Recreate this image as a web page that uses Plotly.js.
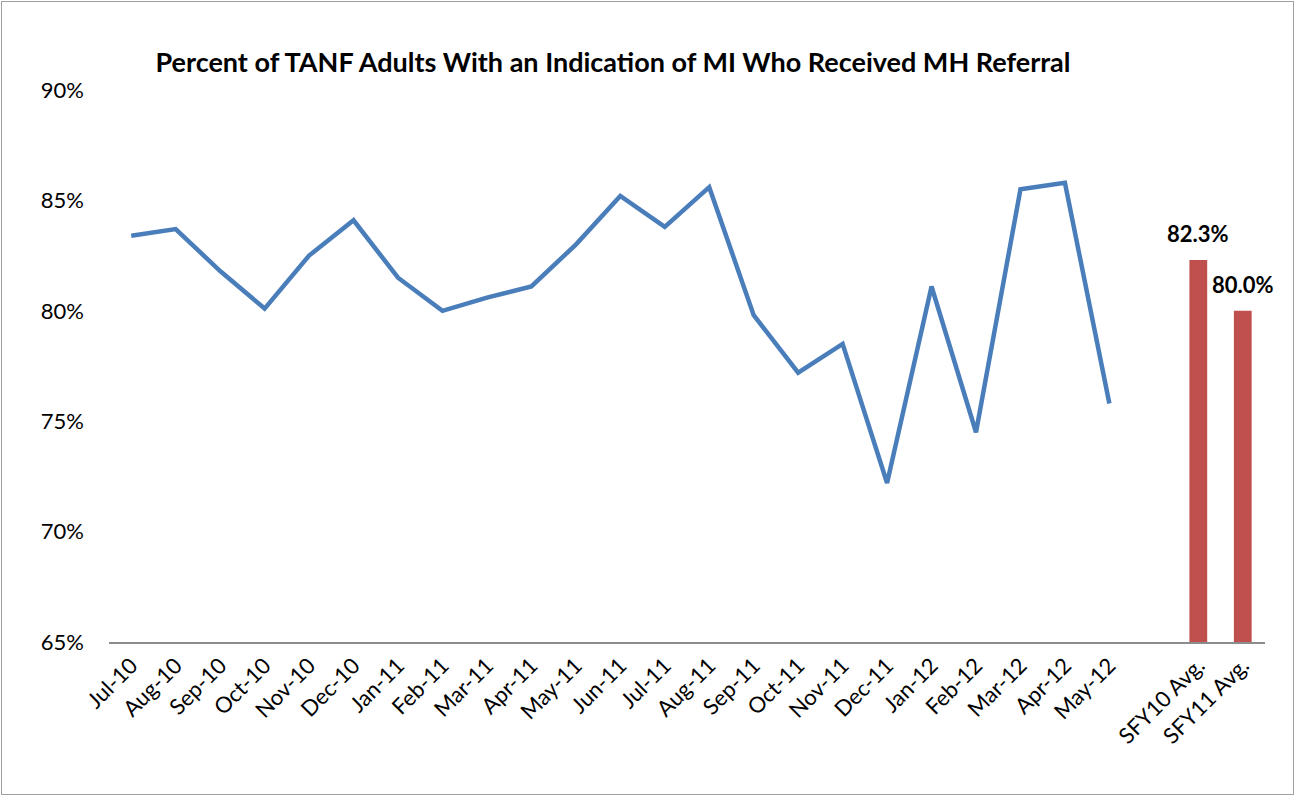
<!DOCTYPE html>
<html>
<head>
<meta charset="utf-8">
<script src="https://cdn.plot.ly/plotly-3.0.1.min.js"></script>
<style>
  body { margin: 0; background: #fff; }
  #chart { width: 1296px; height: 796px; position: relative; }
  #frame { position: absolute; left: 1px; top: 1px; width: 1291px; height: 792px;
           border: 1px solid #a0a0a0; pointer-events: none; }
</style>
</head>
<body>
<div id="chart"><div id="frame"></div></div>
<script>
'use strict'

// monthly percentages

const months = ['Jul-10', 'Aug-10', 'Sep-10', 'Oct-10', 'Nov-10', 'Dec-10',
  'Jan-11', 'Feb-11', 'Mar-11', 'Apr-11', 'May-11', 'Jun-11',
  'Jul-11', 'Aug-11', 'Sep-11', 'Oct-11', 'Nov-11', 'Dec-11',
  'Jan-12', 'Feb-12', 'Mar-12', 'Apr-12', 'May-12']
const monthly = [83.4, 83.7, 81.8, 80.1, 82.5, 84.1,
  81.5, 80.0, 80.6, 81.1, 83.0, 85.2,
  83.8, 85.6, 79.8, 77.2, 78.5, 72.2,
  81.1, 74.5, 85.5, 85.8, 75.8]

// yearly averages

const avgLabels = ['SFY10 Avg.', 'SFY11 Avg.']
const avgValues = [82.3, 80.0]

// y ticks

const yTicks = [65, 70, 75, 80, 85, 90]

///////////////////////////////////////////////////////

// one empty slot between the months and the averages
const labels = months.concat([''], avgLabels)
const idx = labels.map((_, i) => i)
const monthIdx = months.map((_, i) => i)
const avgIdx = avgLabels.map((_, i) => months.length + 1 + i)

const font = 'Lato, "Open Sans", sans-serif'

const traceLine = {
  type: 'scatter',
  mode: 'lines',
  x: monthIdx,
  y: monthly,
  line: { color: '#4a7ebb', width: 4.5 },
  hoverinfo: 'x+y'
}

const traceBars = {
  type: 'bar',
  x: avgIdx,
  y: avgValues,
  width: 0.4,
  marker: { color: '#c0504d' },
  hoverinfo: 'x+y'
}

// value labels sit a little above the bars
const barLabels = avgValues.map((v, i) => ({
  x: avgIdx[i],
  y: v,
  xref: 'x',
  yref: 'y',
  text: '<b>' + v.toFixed(1) + '%</b>',
  showarrow: false,
  yanchor: 'bottom',
  yshift: 11,
  font: { family: font, size: 22, color: '#000' }
}))

const layout = {
  width: 1296,
  height: 796,
  showlegend: false,
  paper_bgcolor: '#fff',
  plot_bgcolor: '#fff',
  margin: { l: 109, r: 31, t: 90, b: 154 },
  title: {
    text: '<b>Percent of TANF Adults With an Indication of MI Who Received MH Referral</b>',
    font: { family: font, size: 27, color: '#000' },
    x: 613 / 1296,
    xanchor: 'center',
    xref: 'container',
    y: 1 - 63 / 796,
    yanchor: 'middle'
  },
  annotations: barLabels,
  xaxis: {
    range: [-0.5, labels.length - 0.5],
    tickvals: idx,
    ticktext: labels,
    tickangle: -45,
    showgrid: false,
    zeroline: false,
    showline: true,
    linecolor: '#8c8c8c',
    linewidth: 2,
    ticks: '',
    tickfont: { family: font, size: 22, color: '#000' }
  },
  yaxis: {
    range: [65, 90],
    tickvals: yTicks,
    ticktext: yTicks.map(v => v + '%'),
    showgrid: false,
    zeroline: false,
    showline: false,
    ticks: '',
    ticklabelstandoff: 24,
    tickfont: { family: font, size: 22, color: '#000' }
  }
}

Plotly.newPlot('chart', [traceLine, traceBars], layout, { displayModeBar: false, staticPlot: true })
</script>
</body>
</html>
